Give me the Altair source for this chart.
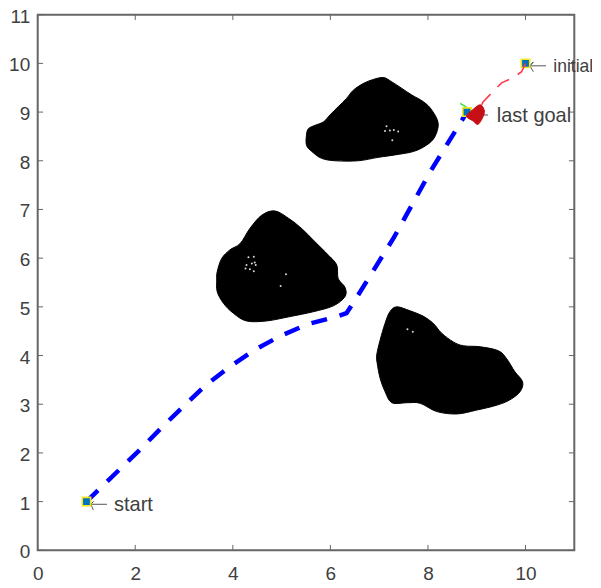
import altair as alt
import pandas as pd

blob1 = [(5.51,8.53),(5.55,8.66),(5.69,8.73),(5.86,8.80),(5.99,8.94),(6.16,9.11),(6.33,9.28),(6.47,9.45),(6.68,9.59),(6.88,9.67),(7.09,9.71),(7.26,9.62),(7.46,9.49),(7.67,9.35),(7.91,9.21),(8.08,9.04),(8.21,8.77),(8.14,8.49),(7.97,8.32),(7.70,8.19),(7.32,8.12),(6.98,8.07),(6.57,8.00),(6.10,8.00),(5.82,8.05),(5.62,8.19),(5.51,8.32)]
blob2 = [(3.67,5.55),(3.68,5.72),(3.77,5.99),(3.94,6.17),(4.15,6.30),(4.35,6.61),(4.59,6.88),(4.86,6.97),(5.14,6.82),(5.41,6.61),(5.68,6.34),(5.96,6.06),(6.13,5.86),(6.16,5.58),(6.30,5.40),(6.30,5.21),(6.06,5.02),(5.65,4.90),(5.17,4.80),(4.69,4.71),(4.28,4.71),(4.01,4.87),(3.81,5.07),(3.68,5.31)]
blob3 = [(6.95,4.01),(7.02,4.32),(7.12,4.66),(7.22,4.90),(7.36,5.00),(7.63,4.92),(7.90,4.81),(8.11,4.66),(8.28,4.46),(8.52,4.28),(8.73,4.20),(9.07,4.18),(9.44,4.10),(9.61,3.94),(9.78,3.67),(9.94,3.46),(9.89,3.26),(9.68,3.09),(9.41,2.98),(9.00,2.88),(8.59,2.80),(8.18,2.85),(7.84,3.02),(7.56,3.03),(7.26,3.03),(7.12,3.26),(7.02,3.53),(6.96,3.84)]
specks = [(7.15,8.71),(7.12,8.61),(7.22,8.62),(7.30,8.63),(7.39,8.60),(7.27,8.42),(7.58,4.54),(7.69,4.49),(4.32,6.02),(4.43,6.03),(4.45,5.91),(4.39,5.89),(4.28,5.86),(4.26,5.79),(4.35,5.77),(4.43,5.73),(4.47,5.86),(5.09,5.67),(4.98,5.43)]
blue_path = [(1,1),(2.10,2.07),(2.51,2.49),(2.95,2.92),(3.43,3.38),(3.91,3.75),(4.42,4.10),(4.97,4.40),(5.55,4.65),(6.13,4.80),(6.33,4.87),(6.50,5.13),(7.30,6.42),(8.05,7.78),(8.80,9.00)]
red_path = [(10,10),(9.92,9.83),(9.74,9.70),(9.51,9.60),(9.40,9.49),(9.13,9.21),(9.07,9.08)]
red_blob = [(8.79,8.92),(8.93,9.06),(9.07,9.15),(9.15,9.05),(9.14,8.93),(9.03,8.75),(8.92,8.82)]
green_seg = [(8.66,9.18),(8.82,9.08)]
markers = [(1,1),(10,10),(8.8,9.0)]
arrow_start = [(1.42,0.945),(1.09,0.945),(1.14,1.0),(1.09,0.945),(1.14,0.83)]
arrow_init = [(10.42,9.95),(10.09,9.95),(10.16,10.03),(10.09,9.95),(10.16,9.83)]
arrow_goal = [(9.23,8.94),(9.0,8.94)]
labels = [("start",1.564,0.813,20),("last goal",9.41,8.80,20),("initial",10.57,9.83,17.5)]
x_ticks = [0,2,4,6,8,10]
y_ticks = list(range(12))

GRAY = "#666666"
TEXT = "#404040"
xs = alt.Scale(domain=[0,11], nice=False)
ys = alt.Scale(domain=[0,11], nice=False)
x_axis = alt.Axis(values=x_ticks, domain=False, ticks=False, grid=False, title=None, labelFontSize=19, labelColor=TEXT, labelFont="Liberation Sans", labelPadding=14, labelFlush=False, format="d")
y_axis = alt.Axis(values=y_ticks, domain=False, ticks=False, grid=False, title=None, labelFontSize=19, labelColor=TEXT, labelFont="Liberation Sans", labelPadding=8, labelOffset=1.5, labelFlush=False, format="d")
X = alt.X("x:Q", scale=xs, axis=x_axis)
Y = alt.Y("y:Q", scale=ys, axis=y_axis)

def df(points):
    return pd.DataFrame({"x":[p[0] for p in points],"y":[p[1] for p in points],"i":range(len(points))})

def line(points, **kw):
    return alt.Chart(df(points)).mark_line(**kw).encode(x=X, y=Y, order="i:Q")

layers = []
for b in (blob1, blob2, blob3):
    layers.append(line(b, fill="black", stroke="black", strokeWidth=1, interpolate="cardinal-closed"))
layers.append(alt.Chart(df(specks)).mark_circle(color="white", size=4, opacity=0.85).encode(x=X, y=Y))
layers.append(line(blue_path, color="#0000ff", strokeWidth=4.5, strokeDash=[16,13]))
layers.append(line(green_seg, color="#40e040", strokeWidth=1.5))
layers.append(line(arrow_start, color="#555555", strokeWidth=1))
layers.append(line(arrow_init, color="#555555", strokeWidth=1))
layers.append(alt.Chart(df(markers)).mark_square(size=70, color="#0072bd", stroke="#f5e61e", strokeWidth=1.6, opacity=1, fillOpacity=1).encode(x=X, y=Y))
layers.append(line(arrow_goal, color="#555555", strokeWidth=1))
layers.append(line(red_path, color="#ff3b4a", strokeWidth=1.6, strokeDash=[14,10]))
layers.append(line(red_blob, fill="#c70f16", stroke="#c70f16", strokeWidth=1, interpolate="cardinal-closed"))

# inward ticks on all four sides
xt = pd.DataFrame({"x":x_ticks})
yt = pd.DataFrame({"y":y_ticks})
tick_len = 0.11
for y0,y1 in ((0,tick_len),(11-tick_len,11)):
    layers.append(alt.Chart(xt).mark_rule(color=GRAY, strokeWidth=1).encode(x=X, y=alt.Y("a:Q",scale=ys,axis=y_axis), y2="b:Q").transform_calculate(a=str(y0), b=str(y1)))
for x0,x1 in ((0,tick_len),(11-tick_len,11)):
    layers.append(alt.Chart(yt).mark_rule(color=GRAY, strokeWidth=1).encode(y=Y, x=alt.X("a:Q",scale=xs,axis=x_axis), x2="b:Q").transform_calculate(a=str(x0), b=str(x1)))

for t,x,y,s in labels:
    layers.append(alt.Chart(pd.DataFrame({"x":[x],"y":[y],"t":[t]})).mark_text(align="left", baseline="alphabetic", font="Liberation Sans", fontSize=s, color=TEXT).encode(x=X, y=Y, text="t:N"))

chart = alt.layer(*layers).properties(
    width=536.6, height=535.6,
    padding={"left":29.7,"top":6.7,"right":18,"bottom":33},
    autosize=alt.AutoSizeParams(type="none"),
    background="white",
).configure_view(stroke=GRAY, strokeWidth=2)

chart.save("out.html", embed_options={"renderer":"svg","actions":False})
